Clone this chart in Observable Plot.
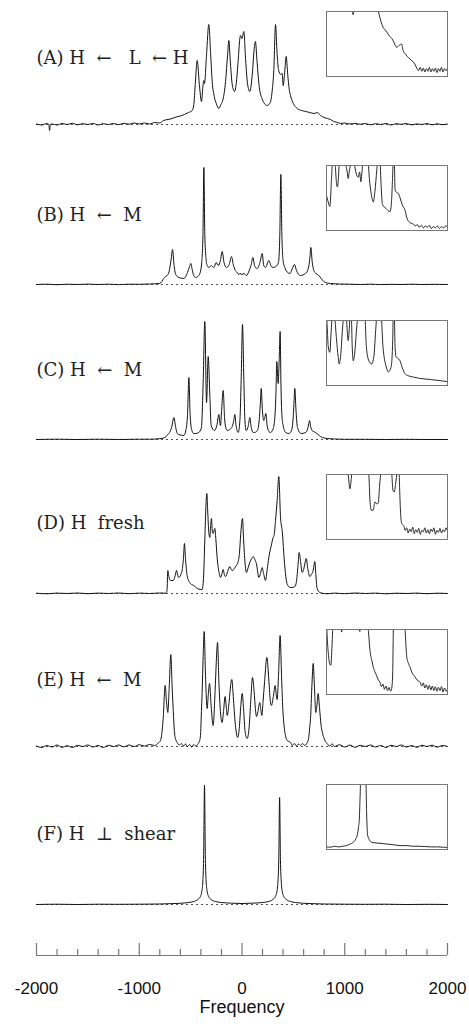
<!DOCTYPE html>
<html>
<head>
<meta charset="utf-8">
<script src="https://cdn.jsdelivr.net/npm/d3@7"></script>
<script src="https://cdn.jsdelivr.net/npm/@observablehq/plot@0.6"></script>
<style>
  body { margin: 0; background: white; }
  #chart { position: relative; width: 469px; height: 1024px; overflow: hidden; background: white; }
  #chart svg { position: absolute; }
</style>
</head>
<body>
<div id="chart"></div>
<script>
// ---------- DATA (frequency in Hz, intensity in arbitrary units) ----------
const panelLabels = [
  "(A) H\u00a0\u00a0\u2190\u00a0\u00a0\u00a0L\u00a0\u00a0\u2190\u00a0H",
  "(B) H\u00a0\u00a0\u2190\u00a0\u00a0M",
  "(C) H\u00a0\u00a0\u2190\u00a0\u00a0M",
  "(D) H\u00a0\u00a0fresh",
  "(E) H\u00a0\u00a0\u2190\u00a0\u00a0M",
  "(F) H\u00a0\u00a0\u22a5\u00a0\u00a0shear"
];

const spectrumA = [[-2000,0.5],[-1950,-0.5],[-1900,1],[-1880,0],[-1873,-6],[-1865,0],[-1850,0.5],[-1800,-0.5],[-1750,1],[-1700,0],[-1650,1.2],[-1600,-0.3],[-1550,0.8],[-1500,0],[-1450,1],[-1400,-0.5],[-1350,0.8],[-1300,0],[-1250,1],[-1200,-0.2],[-1150,1.2],[-1100,0.3],[-1050,1.5],[-1000,0.5],[-950,1.5],[-900,0.5],[-850,2],[-800,1.5],[-764,4],[-720,5],[-680,6],[-640,7.5],[-600,8.5],[-560,10],[-520,12],[-485,14],[-469,20],[-455,40],[-436,64],[-415,40],[-394,23],[-383,35],[-372,44],[-365,41],[-345,70],[-323,100],[-305,70],[-290,43],[-270,28],[-250,21],[-226,16],[-205,20],[-185,25],[-160,43],[-140,70],[-128,84],[-115,65],[-95,40],[-73,33],[-55,42],[-40,60],[-15,89],[0,86],[18,93],[35,65],[55,40],[76,33],[100,50],[118,75],[131,83],[145,65],[165,40],[195,26],[245,19],[275,22],[295,35],[310,55],[326,100],[342,70],[355,55],[375,50],[391,51],[401,39],[415,52],[430,68],[445,50],[460,35],[472,29],[500,21],[537,16],[580,14],[620,13],[660,12],[700,11],[735,12],[764,9],[800,7],[861,5],[893,3],[930,2],[960,1],[1000,1.5],[1050,0.5],[1100,1.2],[1150,0.2],[1200,1],[1250,-0.3],[1300,0.8],[1350,0],[1400,1],[1450,-0.5],[1500,0.8],[1550,0.2],[1600,1],[1650,-0.4],[1700,0.6],[1750,0],[1800,0.9],[1850,-0.3],[1900,0.7],[1950,-0.2],[2000,0.5]];

const spectrumB = [[-2000,0],[-1900,0.3],[-1800,-0.2],[-1700,0.3],[-1600,0],[-1500,0.4],[-1400,0],[-1300,0.3],[-1200,-0.1],[-1100,0.3],[-1000,0.2],[-900,0.5],[-800,1],[-761,6],[-745,8],[-728,9],[-705,15],[-690,25],[-676,35],[-662,20],[-645,10],[-615,7],[-566,6],[-530,12],[-510,18],[-498,21],[-485,15],[-470,9],[-452,7],[-430,8],[-410,11],[-392,22],[-380,50],[-371,117],[-362,50],[-350,26],[-339,19],[-320,17],[-300,19],[-274,17],[-251,22],[-230,19],[-210,24],[-193,33],[-175,22],[-151,17],[-125,20],[-102,28],[-85,20],[-65,14],[-47,12],[-35,10],[-20,11],[0,10],[20,11],[44,9],[70,14],[90,20],[105,27],[125,18],[147,16],[175,22],[196,31],[212,19],[229,17],[261,24],[285,18],[303,17],[330,18],[355,22],[368,50],[378,110],[388,50],[400,24],[420,16],[445,12],[466,11],[490,16],[511,20],[530,14],[569,9],[618,11],[645,16],[660,26],[670,37],[684,22],[699,14],[720,11],[748,9],[770,6],[796,3],[830,1.5],[861,1],[950,0.5],[1050,0.3],[1150,0],[1250,0.3],[1350,-0.1],[1450,0.2],[1550,0],[1650,0.3],[1750,0],[1850,0.2],[2000,0]];

const spectrumC = [[-2000,0],[-1800,0.3],[-1600,0],[-1400,0.3],[-1200,0],[-1000,0.3],[-900,0.3],[-800,0.8],[-750,2],[-722,5],[-700,8],[-685,12],[-663,22],[-645,12],[-630,6],[-615,5],[-566,4],[-545,10],[-530,25],[-517,62],[-505,25],[-490,10],[-470,6],[-452,6],[-420,7],[-395,12],[-378,57],[-362,118],[-345,37],[-329,83],[-313,44],[-300,14],[-268,9],[-245,14],[-225,25],[-214,15],[-209,14],[-198,30],[-183,49],[-170,22],[-155,11],[-144,9],[-120,10],[-95,13],[-80,19],[-70,25],[-58,14],[-37,7],[-20,20],[-8,60],[5,115],[18,60],[28,20],[40,9],[62,14],[76,22],[90,12],[110,7],[122,7],[150,9],[168,20],[178,35],[187,51],[198,30],[212,19],[222,22],[232,26],[245,14],[262,8],[277,7],[300,10],[318,20],[330,45],[339,78],[352,56],[362,80],[371,108],[380,50],[390,22],[401,14],[425,7],[456,6],[485,10],[498,22],[505,35],[514,51],[525,30],[540,12],[576,6],[620,7],[640,11],[650,16],[657,19],[668,13],[683,9],[715,7],[740,5],[764,3],[800,1.5],[829,1],[900,0.5],[1000,0.2],[1200,0.2],[1400,0],[1600,0.2],[1800,0],[2000,0]];

const spectrumD = [[-2000,0.3],[-1900,-0.3],[-1800,0.4],[-1700,0],[-1600,0.5],[-1500,-0.2],[-1400,0.4],[-1300,0],[-1200,0.5],[-1100,-0.2],[-1000,0.4],[-900,0],[-800,0.5],[-740,0.3],[-730,3],[-722,23],[-710,16],[-696,13],[-670,13],[-650,18],[-637,23],[-625,18],[-615,16],[-595,19],[-580,25],[-570,35],[-560,50],[-550,35],[-534,18],[-510,11],[-490,9],[-469,8],[-436,5],[-400,4],[-388,4],[-375,15],[-360,60],[-350,90],[-342,100],[-335,85],[-322,60],[-313,56],[-305,68],[-297,75],[-290,64],[-281,60],[-264,65],[-255,55],[-242,36],[-225,22],[-209,16],[-195,20],[-183,24],[-170,18],[-160,17],[-140,22],[-118,27],[-105,24],[-90,23],[-75,25],[-55,28],[-40,31],[-25,40],[-12,60],[5,75],[15,55],[30,30],[44,21],[60,26],[76,31],[95,35],[109,37],[125,34],[140,30],[164,16],[180,20],[196,26],[210,20],[229,13],[245,24],[261,36],[285,48],[303,56],[312,58],[326,73],[342,93],[358,117],[375,76],[391,63],[414,30],[430,14],[446,8],[470,6],[488,6],[515,7],[530,12],[545,28],[556,41],[570,32],[586,21],[600,24],[612,30],[625,35],[640,25],[660,17],[675,19],[690,22],[709,32],[718,20],[731,5],[757,1],[780,0.3],[830,-0.3],[900,0.4],[1000,-0.2],[1100,0.5],[1200,0],[1300,0.4],[1400,-0.3],[1500,0.3],[1600,0],[1700,0.4],[1800,-0.2],[1900,0.3],[2000,0]];

const spectrumE = [[-2000,0.5],[-1950,-1],[-1900,1],[-1850,-0.5],[-1800,1.5],[-1750,-0.8],[-1700,0.8],[-1650,-1],[-1600,1.2],[-1550,0],[-1500,1.5],[-1450,-0.5],[-1400,1],[-1350,-1],[-1300,1.2],[-1250,0],[-1200,1.5],[-1150,-0.3],[-1100,1.5],[-1050,0],[-1000,1.8],[-950,0.5],[-900,2],[-850,1],[-820,3],[-793,6],[-767,28],[-748,61],[-735,45],[-722,34],[-708,60],[-693,92],[-680,60],[-670,38],[-657,14],[-645,7],[-631,4],[-610,1.5],[-590,3],[-570,0.5],[-550,2.5],[-530,0],[-510,2],[-490,-0.5],[-470,2],[-450,0.5],[-430,2.5],[-415,5],[-404,11],[-395,35],[-388,54],[-378,90],[-368,115],[-355,70],[-339,38],[-328,52],[-316,63],[-300,40],[-281,21],[-262,55],[-250,85],[-238,104],[-225,65],[-210,35],[-193,24],[-180,35],[-164,50],[-152,38],[-144,31],[-125,45],[-110,62],[-99,67],[-85,50],[-65,22],[-41,9],[-25,20],[-12,40],[2,53],[15,38],[30,15],[50,8],[70,20],[85,45],[102,69],[118,55],[130,38],[141,30],[155,35],[173,44],[183,37],[193,31],[205,45],[220,65],[242,89],[262,65],[276,45],[287,41],[305,50],[323,61],[333,52],[342,47],[355,70],[371,111],[385,70],[397,38],[410,20],[423,11],[440,6],[472,4],[490,1],[510,3],[530,0.5],[550,2.5],[570,1],[590,3],[610,1],[630,3],[648,8],[660,20],[667,28],[680,60],[693,83],[705,60],[718,34],[730,42],[741,53],[755,38],[770,21],[782,14],[796,9],[812,5],[829,3],[850,0.5],[880,2.5],[900,0],[950,1.8],[1000,-0.5],[1050,1.5],[1100,-0.8],[1150,1.2],[1200,0],[1250,1.5],[1300,-0.5],[1350,1],[1400,-1],[1450,1.2],[1500,0],[1550,1.5],[1600,-0.5],[1650,1],[1700,-0.8],[1750,1.2],[1800,0],[1850,1.3],[1900,-0.6],[1950,1],[2000,0]];

const spectrumF = [[-2000,0],[-1800,0.3],[-1600,0],[-1400,0.3],[-1200,0.2],[-1000,0.3],[-800,0.5],[-700,0.8],[-600,1.2],[-520,2],[-470,3],[-430,5],[-405,8],[-390,14],[-380,25],[-373,50],[-365,119],[-357,50],[-350,25],[-340,14],[-325,8],[-300,5],[-260,3],[-200,2],[-100,1.3],[0,1],[100,1.3],[200,2],[260,3],[300,5],[325,8],[340,13],[350,23],[358,45],[366,107],[374,45],[382,23],[392,13],[407,8],[432,5],[470,3],[520,2],[600,1.2],[700,0.8],[800,0.5],[1000,0.3],[1200,0.2],[1400,0.3],[1600,0],[1800,0.2],[2000,0]];

// insets: magnified views of 0–1200 Hz, intensity in % of inset height
const insetA = [[0,150],[230,130],[250,110],[264,95],[278,110],[300,130],[480,140],[516,100],[540,85],[560,76],[580,72],[600,68],[625,62],[650,58],[670,52],[696,45],[720,48],[744,50],[760,40],[780,35],[800,31],[828,27],[850,24],[876,19],[895,13],[912,9],[930,14],[945,8],[960,13],[975,7],[990,12],[1005,8],[1020,14],[1035,7],[1050,12],[1065,8],[1080,13],[1095,6],[1110,12],[1125,8],[1140,14],[1155,7],[1170,12],[1185,9],[1200,13]];
const insetB = [[0,54],[15,45],[33,37],[50,80],[62,110],[80,110],[100,72],[109,67],[118,80],[130,110],[175,110],[205,90],[215,80],[225,90],[260,110],[300,85],[315,82],[328,90],[341,75],[352,90],[365,110],[410,110],[425,80],[445,55],[464,44],[480,60],[500,95],[510,110],[530,110],[540,75],[555,40],[590,34],[630,29],[645,45],[655,80],[663,110],[672,110],[680,62],[700,58],[713,57],[730,50],[750,40],[779,31],[800,18],[815,14],[840,11],[862,10],[880,7],[900,9],[920,5],[940,8],[960,4],[980,7],[1000,5],[1020,8],[1040,3],[1060,6],[1080,4],[1100,7],[1120,3],[1140,6],[1160,4],[1180,7],[1200,5]];
const insetC = [[0,110],[10,80],[17,60],[33,51],[45,80],[60,110],[75,110],[100,70],[115,45],[126,33],[140,45],[160,90],[175,110],[195,110],[205,85],[215,69],[225,85],[235,110],[245,110],[255,60],[265,38],[280,50],[300,90],[315,110],[380,110],[395,60],[420,38],[448,33],[470,45],[490,90],[500,110],[540,110],[560,60],[590,30],[613,21],[640,28],[655,60],[663,110],[672,110],[680,60],[690,44],[705,42],[729,38],[750,28],[779,18],[810,15],[862,13],[920,11],[980,10],[1040,9],[1100,8],[1150,7],[1200,6]];
const insetD = [[0,130],[200,120],[215,100],[225,85],[232,78],[240,85],[249,100],[260,120],[400,120],[420,100],[431,60],[445,45],[464,45],[475,55],[481,58],[495,55],[514,56],[525,80],[537,100],[550,120],[640,120],[650,95],[660,75],[672,73],[685,85],[696,100],[705,120],[718,115],[725,80],[735,40],[745,25],[760,22],[769,20],[780,14],[795,18],[810,10],[825,16],[840,12],[855,19],[870,9],[885,15],[900,11],[915,17],[930,8],[945,14],[960,12],[975,18],[990,10],[1005,15],[1020,9],[1035,16],[1050,12],[1065,18],[1080,8],[1095,14],[1110,11],[1125,17],[1140,10],[1155,15],[1170,12],[1185,18],[1200,13]];
const insetE = [[0,110],[10,80],[20,60],[30,48],[43,45],[55,75],[66,110],[140,110],[150,96],[160,110],[320,110],[330,97],[340,110],[400,110],[414,100],[431,68],[450,52],[464,42],[480,35],[497,29],[515,22],[530,19],[545,12],[560,16],[575,8],[590,13],[605,6],[620,11],[635,5],[646,9],[656,30],[665,110],[770,110],[779,100],[790,70],[796,58],[812,48],[829,42],[850,33],[878,27],[900,22],[928,19],[945,13],[960,18],[975,10],[990,15],[1005,8],[1020,14],[1035,7],[1050,13],[1065,6],[1080,12],[1095,5],[1110,11],[1125,6],[1140,12],[1155,4],[1170,10],[1185,5],[1200,8]];
const insetF = [[0,4],[40,3.5],[80,5],[120,4],[160,5],[199,6],[230,8],[265,11],[290,16],[305,22],[318,35],[325,45],[333,80],[340,110],[390,110],[398,55],[408,22],[425,15],[448,11],[500,10],[563,9],[620,8],[680,7],[729,6],[800,6],[860,5],[920,5],[980,4.5],[1040,4],[1100,4],[1160,3.5],[1200,3]];

const majorTicks = [-2000, -1000, 0, 1000, 2000];
const minorTicks = [-1800,-1600,-1400,-1200,-800,-600,-400,-200,200,400,600,800,1200,1400,1600,1800];
const axisTitle = "Frequency";

// ---------- LAYOUT ----------
const spectra = [spectrumA, spectrumB, spectrumC, spectrumD, spectrumE, spectrumF];
const insets = [insetA, insetB, insetC, insetD, insetE, insetF];
const panelTops = [2, 162, 317, 471, 624, 782];
const labelDy = [56, 53, 53, 52, 56, 52];
const insetTops = [10, 164, 319, 473, 628, 783];

const chart = document.getElementById("chart");
function place(svg, left, top) {
  svg.style.left = left + "px";
  svg.style.top = top + "px";
  chart.appendChild(svg);
}

spectra.forEach((data, i) => {
  const svg = Plot.plot({
    width: 469, height: 130,
    marginLeft: 36, marginRight: 22, marginTop: 0, marginBottom: 0,
    x: {domain: [-2000, 2000], axis: null},
    y: {domain: [-8, 122], axis: null},
    style: {background: "transparent", overflow: "visible"},
    marks: [
      Plot.ruleY([0], {stroke: "#222", strokeWidth: 0.8, strokeDasharray: "2,3"}),
      Plot.line(data, {x: d => d[0], y: d => d[1], curve: "monotone-x", stroke: "#111", strokeWidth: 1}),
      Plot.text([panelLabels[i]], {frameAnchor: "top-left", dy: labelDy[i], textAnchor: "start", lineAnchor: "middle",
        fontFamily: "DejaVu Serif", fontSize: 18, fill: "#222"})
    ]
  });
  place(svg, 0, panelTops[i]);
});

insets.forEach((data, i) => {
  const svg = Plot.plot({
    width: 123, height: 67, margin: 1,
    x: {domain: [0, 1200], axis: null},
    y: {domain: [0, 100], axis: null},
    style: {background: "white"},
    marks: [
      Plot.line(data, {x: d => d[0], y: d => d[1], curve: "monotone-x", stroke: "#111", strokeWidth: 0.9, clip: true}),
      Plot.frame({stroke: "#777", strokeWidth: 1})
    ]
  });
  place(svg, 325, insetTops[i]);
});

// bottom axis
const axisSvg = Plot.plot({
  width: 469, height: 86,
  marginLeft: 36, marginRight: 22, marginTop: 0, marginBottom: 0,
  x: {domain: [-2000, 2000], axis: null},
  y: {type: "linear", domain: [0, 86], range: [0, 86], axis: null},
  style: {background: "transparent", overflow: "visible"},
  marks: [
    Plot.ruleY([17], {stroke: "#777", strokeWidth: 1.2}),
    Plot.ruleX(majorTicks, {x: d => d, y1: 5, y2: 17, stroke: "#777", strokeWidth: 1.2}),
    Plot.ruleX(minorTicks, {x: d => d, y1: 11, y2: 17, stroke: "#777", strokeWidth: 1.2}),
    Plot.text(majorTicks, {x: d => d, y: 50, text: d => String(d), lineAnchor: "middle",
      fontFamily: "Liberation Sans, Arial, sans-serif", fontSize: 17, fill: "#111"}),
    Plot.text([axisTitle], {frameAnchor: "top", dy: 69, lineAnchor: "middle",
      fontFamily: "Liberation Sans, Arial, sans-serif", fontSize: 18, fill: "#111"})
  ]
});
place(axisSvg, 0, 938);
</script>
</body>
</html>
